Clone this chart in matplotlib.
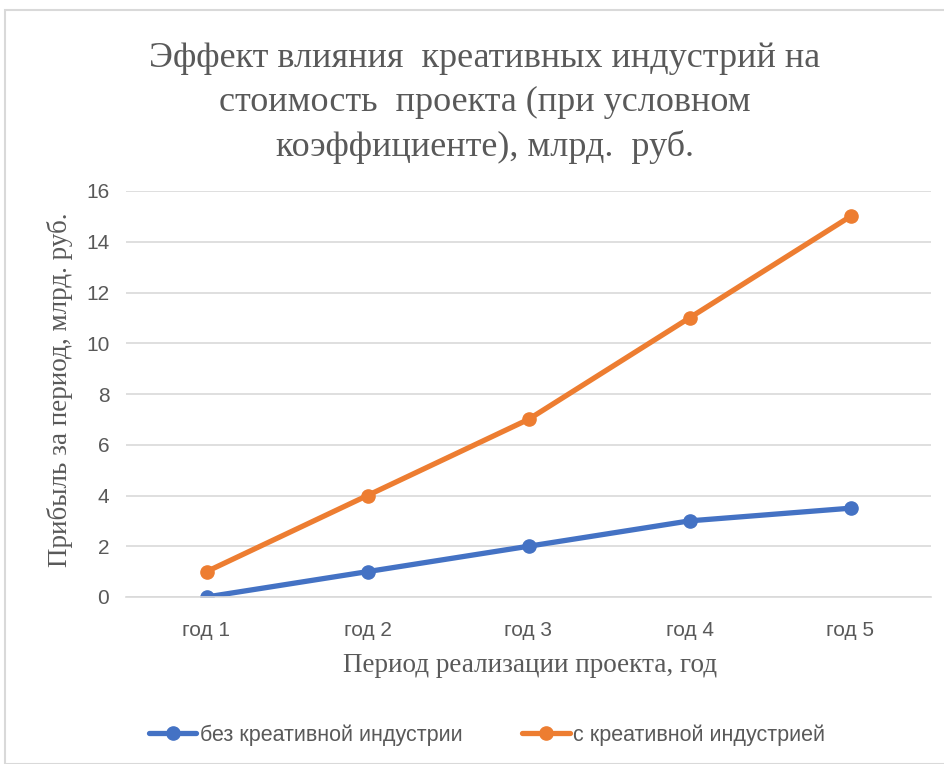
import matplotlib
matplotlib.use("Agg")
from matplotlib import pyplot as plt
from matplotlib.patches import Rectangle

categories = ["год 1", "год 2", "год 3", "год 4", "год 5"]
without_creative = [0, 1, 2, 3, 3.5]
with_creative = [1, 4, 7, 11, 15]

title = "Эффект влияния  креативных индустрий на\nстоимость  проекта (при условном\nкоэффициенте), млрд.  руб."
blue = "#4472C4"
orange = "#ED7D31"
grey = "#595959"
tick_font = ["Liberation Sans", "DejaVu Sans"]
serif_font = ["Liberation Serif", "DejaVu Serif"]

fig = plt.figure(figsize=(9.45, 7.64), dpi=100)
fig.patches.append(Rectangle((5 / 945, 0), 1, 1 - 10 / 764, transform=fig.transFigure,
                             fill=False, edgecolor="#d9d9d9", linewidth=1.5))
ax = fig.add_axes([126 / 945, 1 - 597 / 764, 805 / 945, 406 / 764])

x = range(len(categories))
ax.plot(x, without_creative, color=blue, lw=3.8, marker="o", ms=9.5,
        label="без креативной индустрии", solid_capstyle="round")
ax.plot(x, with_creative, color=orange, lw=3.8, marker="o", ms=9.5,
        label="с креативной индустрией", solid_capstyle="round")

ax.set_xlim(-0.5, len(categories) - 0.5)
ax.set_ylim(0, 16)
ax.set_yticks(range(0, 17, 2))
ax.set_xticks(list(x))
ax.set_xticklabels(categories)
ax.grid(axis="y", color="#d9d9d9", lw=1.2)
ax.set_axisbelow(True)
for s in ["top", "right", "left"]:
    ax.spines[s].set_visible(False)
ax.spines["bottom"].set_color("#d9d9d9")
ax.spines["bottom"].set_linewidth(1.2)
ax.tick_params(length=0, labelsize=15, labelcolor=grey, pad=12)
ax.tick_params(axis="x", pad=17)
for lab in ax.get_xticklabels() + ax.get_yticklabels():
    lab.set_family(tick_font)

fig.text(485 / 945, 1 - 103 / 764, title, ha="center", va="center", fontsize=26,
         color=grey, family=serif_font, linespacing=1.42)
fig.text(530 / 945, 1 - 665 / 764, "Период реализации проекта, год", ha="center", va="center",
         fontsize=19.5, color=grey, family=serif_font)
fig.text(60 / 945, 1 - 390 / 764, "Прибыль за период, млрд. руб.", ha="center", va="center",
         rotation=90, fontsize=19.5, color=grey, family=serif_font)

leg = fig.legend(loc="center", bbox_to_anchor=(487 / 945, 1 - 735 / 764), ncol=2, frameon=False,
                 prop={"family": tick_font, "size": 15.5}, handlelength=2.2, handletextpad=0.15,
                 columnspacing=2.8)
for t in leg.get_texts():
    t.set_color(grey)

plt.savefig("out.png", dpi=100)
